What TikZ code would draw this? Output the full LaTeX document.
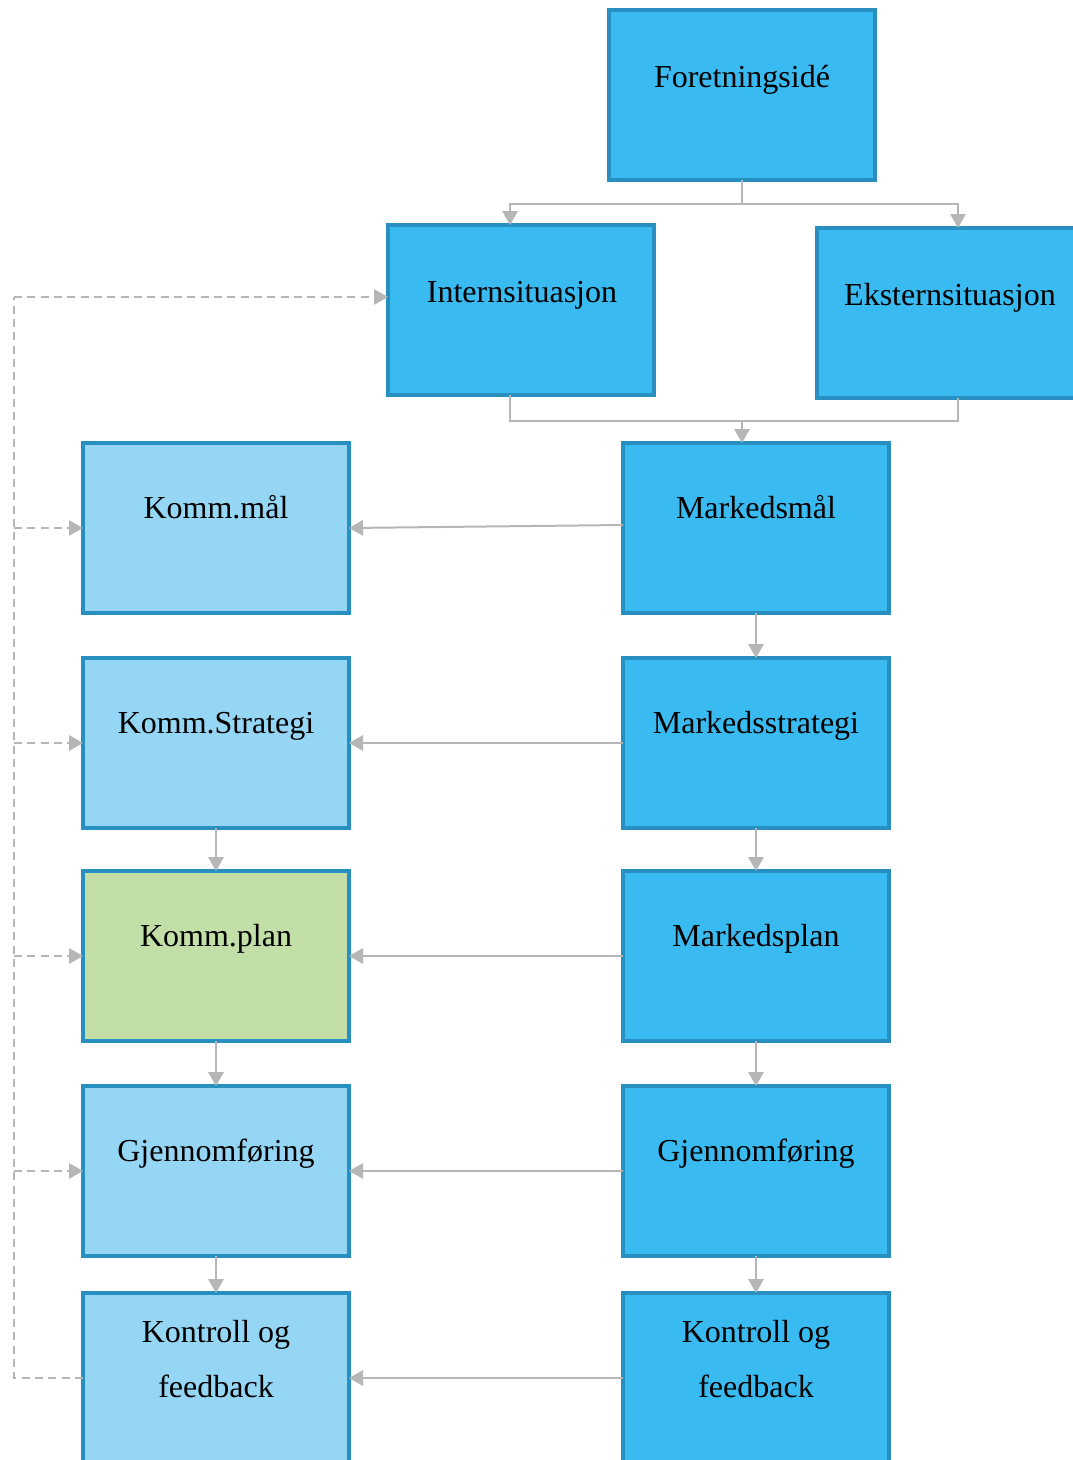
\documentclass[tikz,border=0pt]{standalone}
\usepackage{fontspec}
\setmainfont{Liberation Serif}
\usetikzlibrary{arrows.meta}
\definecolor{dblue}{HTML}{39BBF1}
\definecolor{lblue}{HTML}{95D6F5}
\definecolor{lgreen}{HTML}{C1DFA6}
\definecolor{boxline}{HTML}{2890C0}
\definecolor{arrgray}{HTML}{B6B6B6}
\begin{document}
\begin{tikzpicture}[x=0.75pt,y=-0.75pt,
  box/.style={draw=boxline, line width=2.3pt, minimum width=199.5pt, minimum height=127.5pt,
              anchor=north west, inner sep=0pt, outer sep=0pt},
  dark/.style={box, fill=dblue},
  light/.style={box, fill=lblue},
  plan/.style={box, fill=lgreen},
  lbl/.style={font=\fontsize{24}{41}\selectfont, align=center, anchor=base, inner sep=0pt},
  arr/.style={draw=arrgray, line width=1.5pt, -{Triangle[width=11.5pt,length=10.5pt]}},
  fbline/.style={draw=arrgray, line width=1.5pt, dash pattern=on 6pt off 4pt},
  fbarr/.style={arr, dash pattern=on 6pt off 4pt}]
\useasboundingbox (0,0) rectangle (1073,1460);
\clip (0,0) rectangle (1073,1460);

% upper boxes
\node[dark] (fs) at (609,10) {};
\node[dark] (is) at (388,225) {};
\node[dark] (es) at (817,228) {};
\node[lbl] (fs-t) at (742,87) {Foretningsidé};
\node[lbl] (is-t) at (522,302) {Internsituasjon};
\node[lbl] (es-t) at (950,305) {Eksternsituasjon};

% market column
\node[dark] (mm) at (623,443) {};
\node[dark] (mst) at (623,658) {};
\node[dark] (mp) at (623,871) {};
\node[dark] (mg) at (623,1086) {};
\node[dark] (mk) at (623,1293) {};
\node[lbl] (mm-t) at (756,518) {Markedsmål};
\node[lbl] (mst-t) at (756,733) {Markedsstrategi};
\node[lbl] (mp-t) at (756,946) {Markedsplan};
\node[lbl] (mg-t) at (756,1161) {Gjennomføring};
\node[lbl] (mk-t) at (756,1397) {Kontroll og\\feedback};

% communication column
\node[light] (km) at (83,443) {};
\node[light] (kst) at (83,658) {};
\node[plan] (kp) at (83,871) {};
\node[light] (kg) at (83,1086) {};
\node[light] (kk) at (83,1293) {};
\node[lbl] (km-t) at (216,518) {Komm.mål};
\node[lbl] (kst-t) at (216,733) {Komm.Strategi};
\node[lbl] (kp-t) at (216,946) {Komm.plan};
\node[lbl] (kg-t) at (216,1161) {Gjennomføring};
\node[lbl] (kk-t) at (216,1397) {Kontroll og\\feedback};

% business idea splits into internal and external situation
\draw[arr] (fs.south) -- (742,204) -| ([xshift=-8.25pt]is.north);
\draw[arr] (fs.south) -- (742,204) -| ([xshift=6pt]es.north);
% both situations join into market goals
\draw[draw=arrgray, line width=1.5pt] ([xshift=-8.25pt]is.south) |- (958,421) -- ([xshift=6pt]es.south);
\draw[arr] (742,421) -- ([xshift=-10.5pt]mm.north);

% market chain
\draw[arr] (mm) -- (mst);
\draw[arr] (mst) -- (mp);
\draw[arr] (mp) -- (mg);
\draw[arr] (mg) -- (mk);

% communication chain
\draw[arr] (kst) -- (kp);
\draw[arr] (kp) -- (kg);
\draw[arr] (kg) -- (kk);

% market to communication
\draw[arr] ([yshift=2.25pt]mm.west) -- (km.east);
\draw[arr] (mst.west) -- (kst.east);
\draw[arr] (mp.west) -- (kp.east);
\draw[arr] (mg.west) -- (kg.east);
\draw[arr] (mk.west) -- (kk.east);

% feedback loop
\coordinate (fb-t) at (14,297);
\coordinate (fb-b) at (fb-t |- kk.west);
\draw[fbline] (kk.west) -- (fb-b) -- (fb-t);
\draw[fbarr] (fb-t) -- (is.west |- fb-t);
\draw[fbarr] (fb-t |- km.west) -- (km.west);
\draw[fbarr] (fb-t |- kst.west) -- (kst.west);
\draw[fbarr] (fb-t |- kp.west) -- (kp.west);
\draw[fbarr] (fb-t |- kg.west) -- (kg.west);
\end{tikzpicture}
\end{document}
